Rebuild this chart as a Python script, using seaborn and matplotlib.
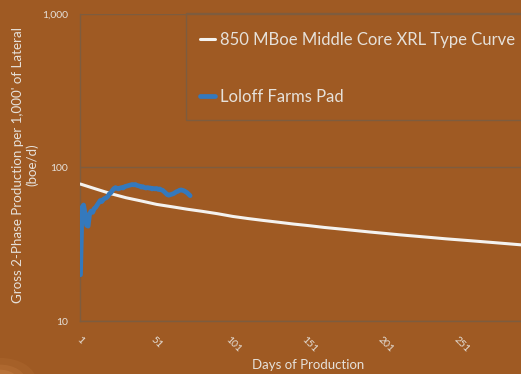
import matplotlib
matplotlib.use("Agg")
import matplotlib.pyplot as plt
from matplotlib.patches import Rectangle, Ellipse
from matplotlib.lines import Line2D
import seaborn as sns
import pandas as pd

# Type curve, sampled every 10 days
type_days = [1, 11, 21, 31, 41, 51, 61, 71, 81, 91, 101, 111, 121, 131, 141,
             151, 161, 171, 181, 191, 201, 211, 221, 231, 241, 251, 261, 271,
             281, 291, 301]
type_rate = [78, 72.5, 67.5, 63.5, 60.5, 57.5, 55.5, 53.5, 51.8, 50, 48, 46.5,
             45.2, 44, 42.8, 41.8, 40.7, 39.8, 38.9, 38, 37.2, 36.4, 35.7, 35,
             34.3, 33.7, 33.1, 32.5, 31.9, 31.3, 30.8]

# Loloff Farms Pad daily production
pad_days = list(range(1, 74))
pad_rate = [20, 55, 57, 50, 42, 41.5, 50, 52, 51, 54,
            55, 57, 59, 61, 60, 62, 63, 63.5, 65, 67.5,
            68.5, 71, 73, 74, 73, 72.5, 73.5, 74, 73.5, 75,
            75.5, 76, 76.5, 77, 77.5, 77, 77.5, 76.5, 76, 75.5,
            74.5, 75, 74, 73.5, 74, 73.5, 73.5, 72.5, 73, 72.5,
            73, 72, 72.5, 71.5, 71, 69.5, 68, 66.5, 66, 66.5,
            67, 67.5, 68.5, 69.5, 70, 71, 71.5, 71, 70.5, 69.5,
            68.5, 67, 65.5]

type_label = "850 MBoe Middle Core XRL Type Curve"
pad_label = "Loloff Farms Pad"
x_ticks = [1, 51, 101, 151, 201, 251]
y_ticks = [10, 100, 1000]
y_tick_labels = ["10", "100", "1,000"]
x_title = "Days of Production"
y_title = "Gross 2-Phase Production per 1,000' of Lateral\n(boe/d)"

bg = "#9F5A23"
rule = "#7E5C3E"
txt = "#E6E1DA"
white_line = "#F4F2EF"
blue_line = "#3479BD"

sns.set_style("white")
plt.rcParams["font.family"] = ["Lato", "DejaVu Sans"]

fig = plt.figure(figsize=(5.21, 3.74), dpi=100, facecolor=bg)

# soft light glow in the lower-left corner of the slide
for w, a in [(0.14, 0.08), (0.10, 0.12), (0.07, 0.16)]:
    fig.patches.append(Ellipse((0.0, -0.02), w, w * 0.9, transform=fig.transFigure,
                               facecolor="#F2A868", edgecolor="none", alpha=a))

ax = fig.add_axes([0.1545, 0.1417, 0.874, 0.8209])
ax.set_facecolor(bg)

df_type = pd.DataFrame({"day": type_days, "rate": type_rate})
df_pad = pd.DataFrame({"day": pad_days, "rate": pad_rate})

sns.lineplot(data=df_type, x="day", y="rate", ax=ax, color=white_line,
             linewidth=2.2, zorder=3)
sns.lineplot(data=df_pad, x="day", y="rate", ax=ax, color=blue_line,
             linewidth=3.4, zorder=4)

ax.set_yscale("log")
ax.set_ylim(10, 1000)
ax.set_xlim(1, 300)
ax.set_yticks(y_ticks)
ax.set_yticklabels(y_tick_labels)
ax.yaxis.set_minor_locator(matplotlib.ticker.NullLocator())
ax.set_xticks(x_ticks)
ax.set_xticklabels([str(t) for t in x_ticks], rotation=-45, ha="center")
ax.tick_params(axis="both", length=0, colors=txt)
ax.tick_params(axis="y", labelsize=7.5, pad=9)
ax.tick_params(axis="x", labelsize=7.5, pad=10)

ax.grid(axis="y", color=rule, linewidth=1)
ax.grid(axis="x", visible=False)
for side in ["top", "right"]:
    ax.spines[side].set_visible(False)
for side in ["left", "bottom"]:
    ax.spines[side].set_color(rule)
    ax.spines[side].set_linewidth(1)

ax.set_xlabel("")
ax.set_ylabel("")
fig.text(308 / 521, 1 - 365 / 374, x_title, color=txt, fontsize=9.5,
         ha="center", va="center")
fig.text(25 / 521, 1 - 165 / 374, y_title, color=txt, fontsize=9.6,
         ha="center", va="center", rotation=90, multialignment="center",
         linespacing=1.2)

# legend box
fig.patches.append(Rectangle((186 / 521, 1 - 120 / 374), 0.7, (120 - 13) / 374,
                             transform=fig.transFigure, facecolor="none",
                             edgecolor=rule, linewidth=1, zorder=5))
handles = [Line2D([], [], color=white_line, linewidth=2.2),
           Line2D([], [], color=blue_line, linewidth=3.4)]
leg = ax.legend(handles, [type_label, pad_label], frameon=False,
                loc="upper left", bbox_to_anchor=(192 / 521, 1 - 24 / 374),
                bbox_transform=fig.transFigure, fontsize=12,
                handlelength=0.85, handletextpad=0.3, labelspacing=2.45,
                borderpad=0)
for t in leg.get_texts():
    t.set_color(txt)

fig.savefig("out.png", dpi=100, facecolor=bg)
